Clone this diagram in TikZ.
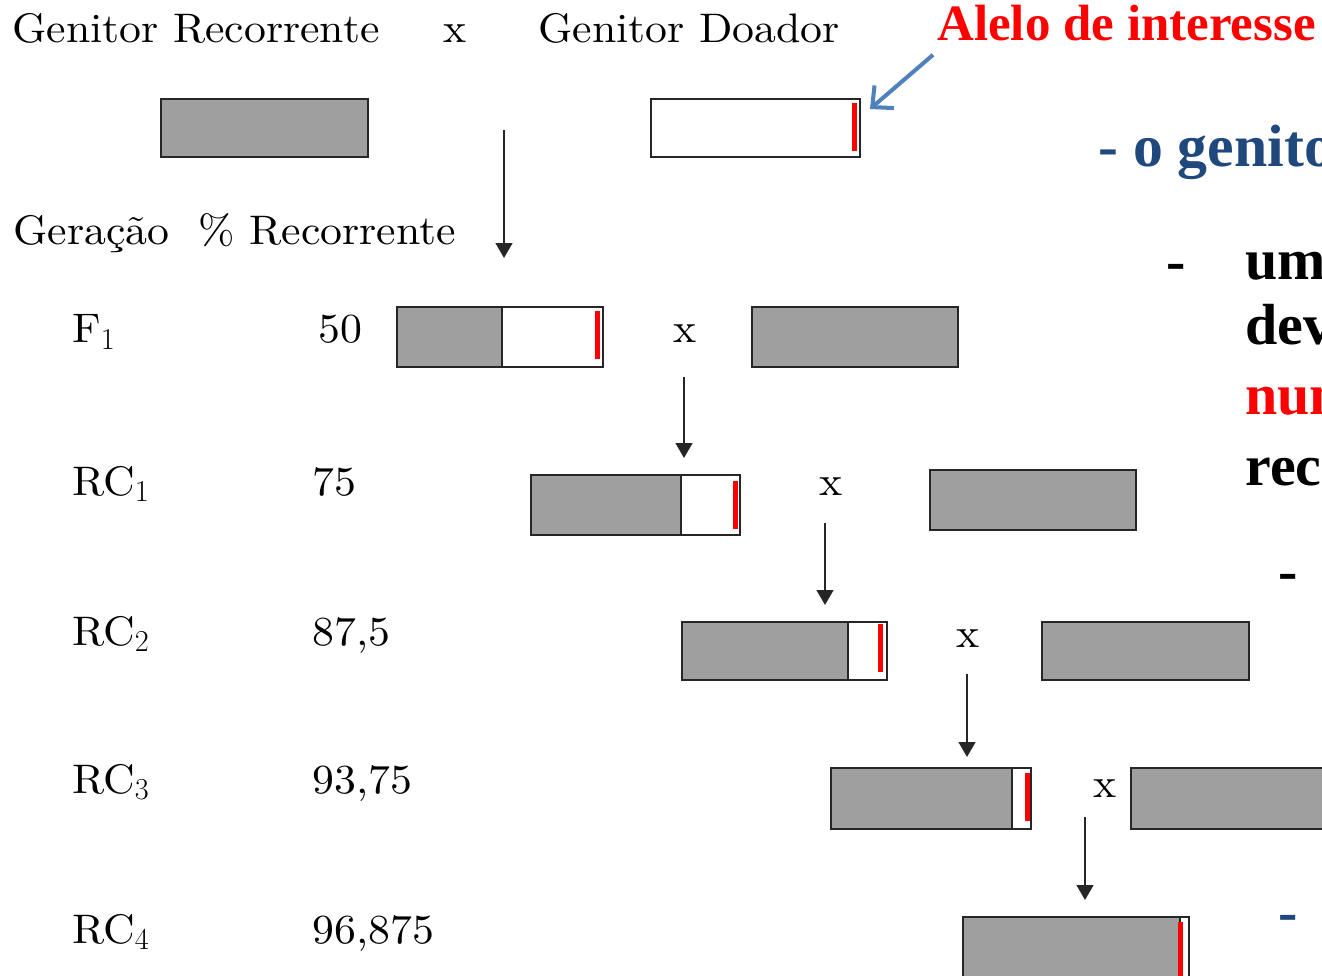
\documentclass[tikz,border=0pt]{standalone}
\usepackage{fontspec}
\usepackage{tikz}
\usetikzlibrary{positioning,arrows.meta}
\newfontfamily\slidefont{Liberation Serif}
\newfontfamily\schfont{lmroman10-regular.otf}[FakeStretch=1.06]
\definecolor{gene}{HTML}{9F9F9F}
\definecolor{edge}{HTML}{262626}
\definecolor{callout}{HTML}{4F81BD}
\definecolor{slideblue}{HTML}{1F497D}
\newcommand{\px}{0.02cm}

\begin{document}
\begin{tikzpicture}[x=0.02cm, y=-0.02cm, font=\schfont\fontsize{23.5}{28}\selectfont]
        \tikzstyle{rp}=[draw=edge, line width=1.4pt, fill=gene, inner sep=0, outer sep=0];
        \tikzstyle{dn}=[rp, fill=white];
        \tikzstyle{allele}=[fill=red, inner sep=0, outer sep=0, minimum width=5*\px, minimum height=48*\px, anchor=north east];
        \tikzstyle{lbl}=[inner sep=0, anchor=base west];
        \tikzstyle{slide}=[inner sep=0, anchor=base west, font=\slidefont\bfseries\fontsize{33}{38}\selectfont];
        \tikzstyle{down}=[draw=edge, line width=1.2pt, -{Triangle[length=8.5pt,width=9.5pt]}];
        \clip (0,0) rectangle (1322,976);
        \fill[white] (0,0) rectangle (1322,976);
        % cabecalho
        \node[lbl] (rec) at (12,43) {Genitor Recorrente};
        \node[inner sep=0, anchor=base] (x0) at (455,43) {x};
        \node[lbl] (doa) at (538,43) {Genitor Doador};
        \node[inner sep=0, anchor=base west, text=red, font=\slidefont\bfseries\fontsize{29}{34}\selectfont] (alelo) at (937,41) {Alelo de interesse};
        \node[rp, anchor=north west, minimum width=207*\px, minimum height=58*\px] (p0) at (161,99) {};
        \node[dn, anchor=north west, minimum width=209*\px, minimum height=58*\px] (d0) at (651,99) {};
        \node[allele, below left=2.5pt and 1.7pt of d0.north east] (d0a) {};
        \coordinate (tip) at (870,109);
        \draw[callout, line width=2.3pt, -{Straight Barb[length=9pt,width=17pt]}] ([shift={(-4,13)}]alelo.south west) -- (tip);
        \node[lbl] (ger) at (13,245) {Gera\c{c}\~ao\ \ \% Recorrente};
        % F1
        \node[lbl] (g1) at (72,343) {F$_1$};
        \node[lbl] (v1) at (318,343) {50};
        \node[rp, anchor=north west, minimum width=105*\px, minimum height=60*\px] (f1) at (397,307) {};
        \node[dn, right=0mm of f1, minimum width=101*\px, minimum height=60*\px] (f1w) {};
        \node[allele, below left=2.3pt and 1.7pt of f1w.north east] (f1a) {};
        \node[inner sep=0, anchor=base] (x1) at (685,343) {x};
        \node[rp, anchor=north west, minimum width=206*\px, minimum height=60*\px] (p1) at (752,307) {};
        % RC1
        \node[lbl] (g2) at (72,495) {RC$_1$};
        \node[lbl] (v2) at (312,495) {75};
        \node[rp, anchor=north west, minimum width=150*\px, minimum height=60*\px] (rc1) at (531,475) {};
        \node[dn, right=0mm of rc1, minimum width=59*\px, minimum height=60*\px] (rc1w) {};
        \node[allele, below left=3.4pt and 1.4pt of rc1w.north east] (rc1a) {};
        \node[inner sep=0, anchor=base] (x2) at (831,495) {x};
        \node[rp, anchor=north west, minimum width=206*\px, minimum height=60*\px] (p2) at (930,470) {};
        % RC2
        \node[lbl] (g3) at (72,645) {RC$_2$};
        \node[lbl] (v3) at (312,645) {87,5};
        \node[rp, anchor=north west, minimum width=166*\px, minimum height=58*\px] (rc2) at (682,622) {};
        \node[dn, right=0mm of rc2, minimum width=39*\px, minimum height=58*\px] (rc2w) {};
        \node[allele, below left=1.2pt and 2.3pt of rc2w.north east] (rc2a) {};
        \node[inner sep=0, anchor=base] (x3) at (968,647) {x};
        \node[rp, anchor=north west, minimum width=207*\px, minimum height=58*\px] (p3) at (1042,622) {};
        % RC3
        \node[lbl] (g4) at (72,793) {RC$_3$};
        \node[lbl] (v4) at (312,793) {93,75};
        \node[rp, anchor=north west, minimum width=181*\px, minimum height=61*\px] (rc3) at (831,768) {};
        \node[dn, right=0mm of rc3, minimum width=19*\px, minimum height=61*\px] (rc3w) {};
        \node[allele, below left=2.8pt and 0.6pt of rc3w.north east] (rc3a) {};
        \node[inner sep=0, anchor=base] (x4) at (1105,797) {x};
        \node[rp, anchor=north west, minimum width=250*\px, minimum height=61*\px] (p4) at (1131,768) {};
        % RC4
        \node[lbl] (g5) at (72,943) {RC$_4$};
        \node[lbl] (v5) at (312,943) {96,875};
        \node[rp, anchor=north west, minimum width=217*\px, minimum height=80*\px] (rc4) at (963,917) {};
        \node[dn, right=0mm of rc4, minimum width=9*\px, minimum height=80*\px] (rc4w) {};
        \node[allele, below left=2.8pt and 3.4pt of rc4w.north east, minimum height=60*\px] (rc4a) {};
        % setas
        \coordinate (s0) at (504,130); \coordinate (e0) at (504,258);
        \coordinate (s1) at (684,377); \coordinate (e1) at (684,458);
        \coordinate (s2) at (825,523); \coordinate (e2) at (825,605);
        \coordinate (s3) at (967,674); \coordinate (e3) at (967,757);
        \coordinate (s4) at (1085,817); \coordinate (e4) at (1085,900);
        \draw[down] (s0) -- (e0);
        \draw[down] (s1) -- (e1);
        \draw[down] (s2) -- (e2);
        \draw[down] (s3) -- (e3);
        \draw[down] (s4) -- (e4);
        % texto do slide
        \node[slide, text=slideblue, font=\slidefont\bfseries\fontsize{34}{40}\selectfont] (t0) at (1098,167) {- o genito};
        \node[slide] (b1) at (1166,281) {-};
        \node[slide] (t1) at (1245,280) {um};
        \node[slide] (t2) at (1245,345) {dev};
        \node[slide, text=red] (t3) at (1245,415) {num};
        \node[slide] (t4) at (1245,485) {reco};
        \node[slide] (b2) at (1278,590) {-};
        \node[slide, text=slideblue] (b3) at (1278,931) {-};
    \end{tikzpicture}
\end{document}
